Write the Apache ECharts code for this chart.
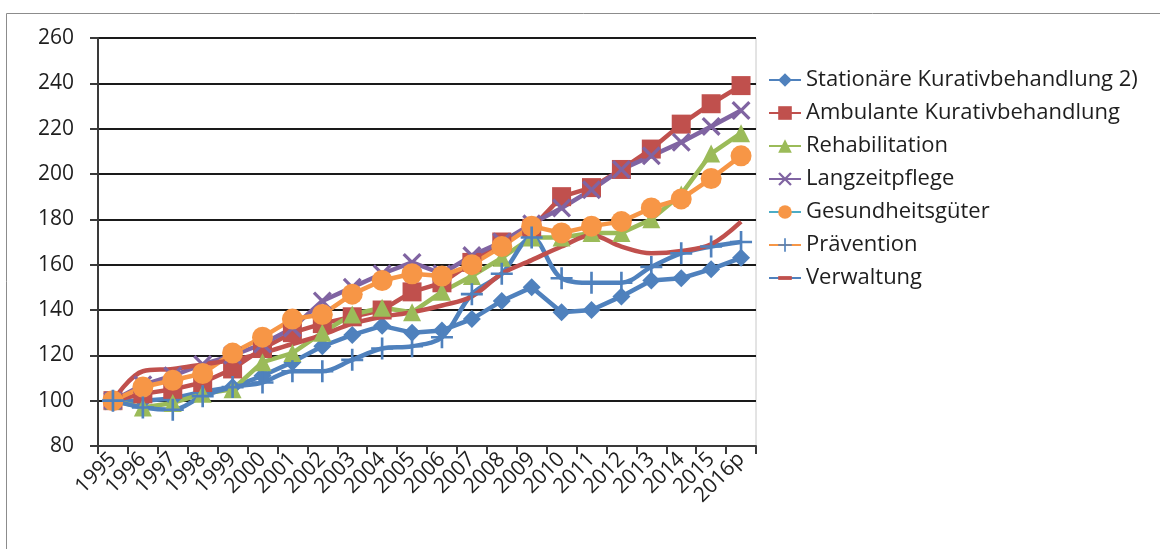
<!DOCTYPE html>
<html>
<head>
<meta charset="utf-8">
<script src="https://cdn.jsdelivr.net/npm/echarts@6/dist/echarts.min.js"></script>
<style>
  html, body { margin: 0; padding: 0; background: #fff; }
  #chart { width: 1160px; height: 549px; }
</style>
</head>
<body>
<div id="chart"></div>
<script>
// Gesundheitsausgaben nach Funktionen, Index 1995 = 100
const years = ['1995','1996','1997','1998','1999','2000','2001','2002','2003','2004','2005',
               '2006','2007','2008','2009','2010','2011','2012','2013','2014','2015','2016p'];

const stationaer  = [100, 100, 101, 104, 106, 111, 117, 124, 129, 133, 130, 131, 136, 144, 150, 139, 140, 146, 153, 154, 158, 163];
const ambulant    = [100, 103, 105, 108, 114, 123, 130, 134, 137, 140, 148, 152, 161, 170, 176, 190, 194, 202, 211, 222, 231, 239];
const reha        = [100,  97,  99, 103, 105, 117, 121, 130, 138, 141, 139, 148, 155, 163, 172, 172, 174, 174, 180, 191, 209, 218];
const pflege      = [100, 107, 111, 116, 120, 125, 132, 144, 150, 156, 161, 156, 164, 170, 178, 185, 193, 202, 208, 214, 221, 228];
const gueter      = [100, 106, 109, 112, 121, 128, 136, 138, 147, 153, 156, 155, 160, 168, 177, 174, 177, 179, 185, 189, 198, 208];
const praevention = [100,  97,  96, 102, 106, 108, 113, 113, 118, 123, 124, 128, 147, 156, 172, 154, 152, 152, 159, 165, 168, 170];
const verwaltung  = [100, 113, 114, 116, 118, 121, 125, 129, 134, 137, 139, 142, 146, 156, 162, 168, 173, 168, 165, 166, 169, 179];

const names = ['Stationäre Kurativbehandlung 2)', 'Ambulante Kurativbehandlung', 'Rehabilitation',
               'Langzeitpflege', 'Gesundheitsgüter', 'Prävention', 'Verwaltung'];

const C = { blue: '#4F81BD', red: '#C0504D', green: '#9BBB59', purple: '#8064A2',
            aqua: '#4BACC6', orange: '#F79646' };

// marker shapes
const crossX = 'path://M0,1.2L1.2,0L10,8.8L8.8,10Z M8.8,0L10,1.2L1.2,10L0,8.8Z';
const plus = 'path://M4.4,0H5.6V4.4H10V5.6H5.6V10H4.4V5.6H0V4.4H4.4Z';
const dash = 'path://M0,0 M0,3.6H10V6.4H0Z M10,10';

const FONT = '"Open Sans", "Liberation Sans", sans-serif';
const TXT = '#1e1e1e';

function lineSeries(name, data, color, symbol, size, extra) {
  return Object.assign({
    name, type: 'line', data,
    symbol, symbolSize: size,
    lineStyle: { color, width: 4.5 },
    itemStyle: { color },
    emphasis: { disabled: true },
    animation: false
  }, extra || {});
}

const chart = echarts.init(document.getElementById('chart'), null, { renderer: 'canvas' });
chart.setOption({
  backgroundColor: '#fff',
  animation: false,
  graphic: [{
    type: 'rect', silent: true,
    shape: { x: 6.5, y: 13.5, width: 1170, height: 560 },
    style: { fill: 'none', stroke: '#8c8c8c', lineWidth: 1 }
  }],
  grid: {
    left: 98, right: 404, top: 38, bottom: 103,
    show: true, borderColor: '#c8c8c8', borderWidth: 1
  },
  legend: {
    orient: 'vertical', left: 763, top: 64,
    itemWidth: 32, itemHeight: 17, itemGap: 11,
    textStyle: { fontFamily: FONT, fontSize: 22, color: TXT, lineHeight: 22 },
    data: [
      { name: names[0] },
      { name: names[1] },
      { name: names[2] },
      { name: names[3] },
      { name: names[4], lineStyle: { color: C.aqua } },
      { name: names[5], lineStyle: { color: C.orange }, itemStyle: { color: C.blue } },
      { name: names[6], lineStyle: { color: C.blue }, itemStyle: { color: C.red } }
    ]
  },
  xAxis: {
    type: 'category', data: years, boundaryGap: true,
    axisLine: { show: true, lineStyle: { color: '#3a3a3a', width: 2 } },
    axisTick: { show: true, length: 8, lineStyle: { color: '#3a3a3a', width: 2 } },
    axisLabel: { rotate: 45, margin: 10, interval: 0, fontFamily: FONT, fontSize: 21, color: TXT },
    splitLine: { show: false }
  },
  yAxis: {
    type: 'value', min: 80, max: 260, interval: 20,
    axisLine: { show: true, lineStyle: { color: '#3a3a3a', width: 2 } },
    axisTick: { show: true, length: 8, lineStyle: { color: '#3a3a3a', width: 2 } },
    axisLabel: { margin: 24, fontFamily: FONT, fontSize: 21, color: TXT },
    splitLine: { show: true, lineStyle: { color: '#1a1a1a', width: 2 } }
  },
  series: [
    lineSeries(names[0], stationaer, C.blue, 'diamond', 18),
    lineSeries(names[1], ambulant, C.red, 'rect', 19),
    lineSeries(names[2], reha, C.green, 'triangle', 18),
    lineSeries(names[3], pflege, C.purple, crossX, 19),
    lineSeries(names[4], gueter, C.orange, 'circle', 21),
    lineSeries(names[5], praevention, C.blue, plus, 22, { smooth: 0.35 }),
    lineSeries(names[6], verwaltung, C.red, dash, 12, { smooth: 0.35, showSymbol: false })
  ]
});
</script>
</body>
</html>
